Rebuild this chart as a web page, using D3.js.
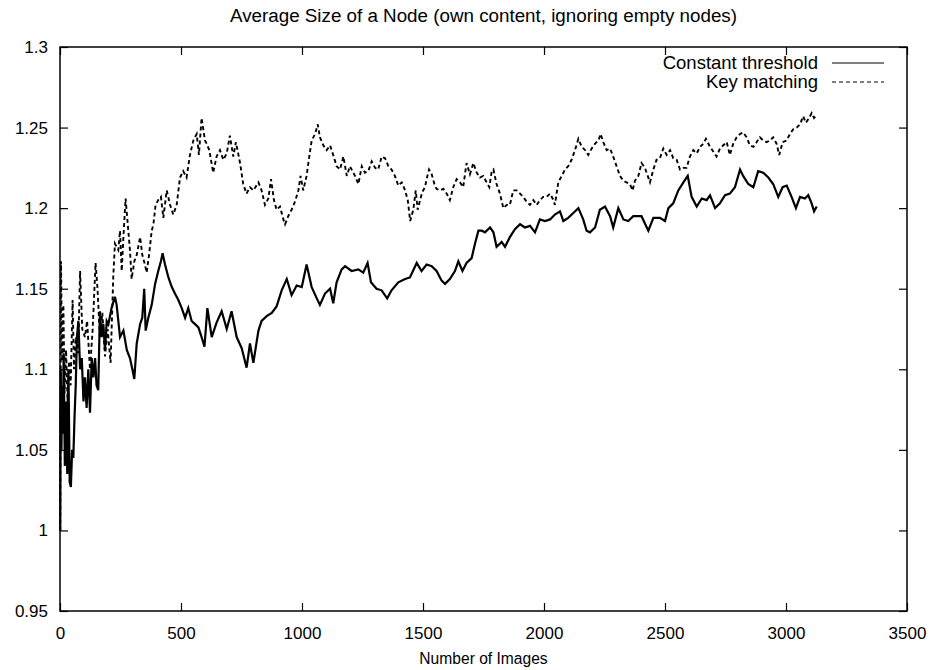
<!doctype html>
<html>
<head>
<meta charset="utf-8">
<style>
body{ margin:0; background:#ffffff; }
text{ font-family: "Liberation Sans", Arial, Helvetica, sans-serif; fill:#000; }
.tick-label{ font-size:17px; }
.title{ font-size:18.8px; }
.xtitle{ font-size:15.6px; }
.legend-label{ font-size:18.5px; }
</style>
<script src="https://d3js.org/d3.v7.min.js"></script>
</head>
<body>
<svg width="933" height="670"></svg>
<script>
var title = "Average Size of a Node (own content, ignoring empty nodes)";
var xTitle = "Number of Images";
var seriesNames = ["Constant threshold", "Key matching"];
var xTicks = [0, 500, 1000, 1500, 2000, 2500, 3000, 3500];
var yTicks = [0.95, 1, 1.05, 1.1, 1.15, 1.2, 1.25, 1.3];

// [images, avg size]
var constantThreshold = [
 [1,1.0],[3,1.10],[6,1.05],[9,1.09],[12,1.06],[15,1.11],[20,1.04],[25,1.08],[30,1.035],[35,1.1],
 [40,1.03],[45,1.027],[50,1.05],[55,1.045],[60,1.07],[65,1.09],[70,1.12],[76,1.13],[83,1.1],[90,1.107],
 [97,1.08],[103,1.095],[110,1.076],[117,1.1],[124,1.073],[131,1.107],[138,1.095],[145,1.107],[151,1.09],[158,1.087],
 [165,1.136],[172,1.12],[179,1.128],[186,1.112],[193,1.13],[200,1.128],[213,1.138],[227,1.145],[234,1.14],[248,1.12],
 [262,1.124],[276,1.112],[289,1.107],[299,1.1],[307,1.094],[317,1.116],[331,1.128],[340,1.132],[348,1.15],[354,1.124],
 [365,1.132],[379,1.14],[393,1.153],[406,1.161],[417,1.167],[424,1.172],[434,1.165],[448,1.157],[462,1.151],[475,1.147],
 [489,1.143],[503,1.138],[517,1.132],[530,1.138],[544,1.13],[558,1.128],[572,1.126],[585,1.12],[597,1.114],[609,1.138],
 [627,1.12],[647,1.129],[668,1.136],[689,1.125],[709,1.136],[730,1.12],[751,1.113],[771,1.101],[785,1.116],[799,1.104],
 [820,1.124],[833,1.13],[854,1.133],[875,1.135],[895,1.139],[916,1.149],[937,1.156],[957,1.146],[978,1.152],[999,1.151],
 [1019,1.165],[1040,1.151],[1061,1.144],[1074,1.14],[1095,1.147],[1116,1.15],[1129,1.141],[1143,1.154],[1164,1.162],[1178,1.164],
 [1205,1.161],[1233,1.162],[1253,1.16],[1271,1.166],[1285,1.154],[1308,1.15],[1329,1.149],[1352,1.144],[1370,1.149],[1398,1.154],
 [1426,1.156],[1446,1.157],[1474,1.166],[1494,1.161],[1515,1.165],[1536,1.164],[1556,1.161],[1577,1.155],[1591,1.153],[1611,1.156],
 [1632,1.161],[1646,1.167],[1663,1.161],[1680,1.166],[1701,1.169],[1715,1.178],[1729,1.186],[1743,1.186],[1756,1.185],[1777,1.188],
 [1791,1.185],[1804,1.176],[1825,1.179],[1839,1.176],[1859,1.182],[1880,1.187],[1901,1.19],[1921,1.188],[1942,1.189],[1963,1.185],
 [1983,1.193],[2004,1.192],[2025,1.193],[2045,1.196],[2066,1.198],[2080,1.192],[2100,1.194],[2121,1.197],[2142,1.2],[2162,1.193],
 [2176,1.186],[2190,1.185],[2211,1.188],[2231,1.199],[2252,1.201],[2273,1.195],[2286,1.188],[2307,1.2],[2328,1.193],[2348,1.192],
 [2369,1.195],[2403,1.195],[2431,1.186],[2452,1.194],[2479,1.194],[2500,1.192],[2514,1.2],[2534,1.203],[2555,1.211],[2576,1.216],
 [2594,1.22],[2610,1.207],[2631,1.201],[2652,1.206],[2672,1.205],[2686,1.208],[2707,1.2],[2727,1.203],[2748,1.208],[2768,1.209],
 [2789,1.213],[2810,1.224],[2823,1.22],[2844,1.215],[2865,1.213],[2885,1.223],[2906,1.222],[2927,1.219],[2947,1.215],[2968,1.207],
 [2986,1.213],[3003,1.214],[3023,1.207],[3041,1.2],[3058,1.207],[3078,1.206],[3092,1.208],[3106,1.203],[3116,1.198],[3127,1.201]
];

var keyMatching = [
 [1,1.0],[4,1.167],[9,1.105],[14,1.14],[19,1.085],[25,1.112],[31,1.08],[37,1.105],[44,1.09],[52,1.143],
 [58,1.1],[66,1.12],[75,1.11],[83,1.161],[92,1.125],[103,1.12],[112,1.13],[124,1.1],[135,1.125],[147,1.166],
 [155,1.15],[165,1.12],[175,1.135],[186,1.108],[197,1.125],[209,1.104],[220,1.157],[227,1.178],[241,1.174],[248,1.186],
 [255,1.161],[262,1.182],[271,1.206],[280,1.19],[289,1.174],[296,1.156],[307,1.167],[317,1.171],[331,1.182],[340,1.171],
 [351,1.165],[358,1.16],[368,1.171],[379,1.186],[386,1.19],[395,1.202],[406,1.205],[417,1.207],[427,1.194],[441,1.211],
 [455,1.202],[468,1.196],[482,1.202],[496,1.219],[509,1.223],[523,1.219],[537,1.233],[551,1.242],[565,1.246],[574,1.233],
 [585,1.256],[599,1.242],[606,1.24],[617,1.236],[633,1.222],[647,1.232],[661,1.236],[675,1.23],[689,1.234],[702,1.245],
 [716,1.232],[727,1.241],[744,1.228],[757,1.215],[771,1.209],[785,1.213],[799,1.211],[820,1.216],[833,1.211],[847,1.202],
 [861,1.206],[872,1.218],[884,1.205],[895,1.199],[909,1.201],[923,1.193],[930,1.19],[943,1.195],[957,1.199],[971,1.204],
 [985,1.211],[994,1.22],[1005,1.211],[1019,1.22],[1030,1.232],[1040,1.242],[1054,1.246],[1065,1.252],[1074,1.244],[1088,1.239],
 [1102,1.236],[1116,1.239],[1129,1.233],[1143,1.226],[1157,1.224],[1171,1.232],[1185,1.22],[1198,1.226],[1219,1.22],[1233,1.215],
 [1247,1.226],[1260,1.222],[1274,1.223],[1288,1.229],[1302,1.225],[1315,1.224],[1329,1.232],[1343,1.231],[1357,1.226],[1370,1.224],
 [1384,1.22],[1398,1.214],[1412,1.216],[1426,1.211],[1437,1.205],[1447,1.192],[1460,1.199],[1470,1.211],[1478,1.199],[1488,1.205],
 [1497,1.21],[1508,1.213],[1515,1.218],[1525,1.224],[1536,1.221],[1547,1.215],[1556,1.212],[1570,1.211],[1584,1.212],[1598,1.209],
 [1611,1.205],[1625,1.213],[1639,1.218],[1653,1.216],[1666,1.213],[1680,1.228],[1694,1.221],[1708,1.228],[1722,1.222],[1735,1.219],
 [1749,1.22],[1763,1.216],[1774,1.213],[1784,1.223],[1791,1.224],[1804,1.215],[1818,1.209],[1832,1.2],[1846,1.202],[1859,1.202],
 [1873,1.211],[1887,1.211],[1901,1.209],[1914,1.207],[1928,1.204],[1942,1.202],[1956,1.205],[1970,1.202],[1983,1.205],[1997,1.207],
 [2011,1.207],[2025,1.209],[2039,1.205],[2045,1.202],[2059,1.216],[2073,1.22],[2087,1.224],[2100,1.226],[2114,1.23],[2128,1.236],
 [2142,1.243],[2156,1.238],[2170,1.236],[2183,1.233],[2197,1.237],[2211,1.24],[2225,1.242],[2234,1.246],[2245,1.241],[2259,1.236],
 [2273,1.237],[2286,1.232],[2300,1.226],[2314,1.22],[2328,1.217],[2341,1.216],[2355,1.215],[2366,1.211],[2376,1.217],[2390,1.22],
 [2403,1.228],[2417,1.225],[2438,1.216],[2452,1.224],[2465,1.23],[2479,1.231],[2493,1.237],[2507,1.233],[2521,1.236],[2534,1.231],
 [2548,1.23],[2562,1.224],[2576,1.225],[2589,1.225],[2603,1.232],[2617,1.236],[2631,1.234],[2645,1.238],[2658,1.24],[2669,1.243],
 [2686,1.238],[2700,1.235],[2713,1.232],[2727,1.237],[2741,1.239],[2755,1.241],[2768,1.233],[2782,1.24],[2796,1.244],[2810,1.246],
 [2823,1.247],[2837,1.244],[2851,1.239],[2865,1.238],[2879,1.241],[2892,1.244],[2906,1.242],[2920,1.241],[2934,1.242],[2947,1.244],
 [2961,1.24],[2972,1.233],[2986,1.241],[3003,1.242],[3016,1.246],[3030,1.249],[3044,1.25],[3058,1.252],[3071,1.257],[3082,1.253],
 [3096,1.256],[3106,1.259],[3116,1.256],[3127,1.258]
];

var svg = d3.select("svg");
var margin = {left:60, right:26, top:47, bottom:59};
var W = 933, H = 670;

var x = d3.scaleLinear().domain([0, 3500]).range([margin.left, W - margin.right]);
var y = d3.scaleLinear().domain([0.95, 1.3]).range([H - margin.bottom, margin.top]);

// title
svg.append("text").attr("class","title")
  .attr("x", (margin.left + W - margin.right)/2).attr("y", 22)
  .attr("text-anchor","middle").text(title);

// axes with inward ticks, mirrored
var tickLen = 8;
svg.append("g").attr("transform","translate(0," + y.range()[0] + ")")
  .call(d3.axisBottom(x).tickValues(xTicks).tickSize(-tickLen).tickPadding(tickLen + 8).tickFormat(d3.format("d")))
  .call(function(g){ g.select(".domain").remove(); g.selectAll("text").attr("class","tick-label").attr("font-size",null).attr("font-family",null); });
svg.append("g").attr("transform","translate(0," + y.range()[1] + ")")
  .call(d3.axisTop(x).tickValues(xTicks).tickSize(-tickLen).tickFormat(""))
  .call(function(g){ g.select(".domain").remove(); });
svg.append("g").attr("transform","translate(" + x.range()[0] + ",0)")
  .call(d3.axisLeft(y).tickValues(yTicks).tickSize(-tickLen).tickPadding(tickLen + 4).tickFormat(function(d){ return d3.format("")(+d.toFixed(2)); }))
  .call(function(g){ g.select(".domain").remove(); g.selectAll("text").attr("class","tick-label").attr("font-size",null).attr("font-family",null); });
svg.append("g").attr("transform","translate(" + x.range()[1] + ",0)")
  .call(d3.axisRight(y).tickValues(yTicks).tickSize(-tickLen).tickFormat(""))
  .call(function(g){ g.select(".domain").remove(); });
svg.selectAll(".tick line").attr("stroke","#000").attr("stroke-width",1.2);

svg.append("rect")
  .attr("x", x.range()[0]).attr("y", y.range()[1])
  .attr("width", x.range()[1] - x.range()[0]).attr("height", y.range()[0] - y.range()[1])
  .attr("fill","none").attr("stroke","#000").attr("stroke-width",1.5);

svg.append("text").attr("class","xtitle")
  .attr("x", (margin.left + W - margin.right)/2).attr("y", 664)
  .attr("text-anchor","middle").text(xTitle);

var line = d3.line().x(function(d){ return x(d[0]); }).y(function(d){ return y(d[1]); });

svg.append("path").datum(keyMatching)
  .attr("fill","none").attr("stroke","#000").attr("stroke-width",1.9)
  .attr("stroke-dasharray","4,3").attr("d", line);
svg.append("path").datum(constantThreshold)
  .attr("fill","none").attr("stroke","#000").attr("stroke-width",2.2)
  .attr("d", line);

// legend
var legend = svg.append("g");
var dashes = [null, "4,3"];
seriesNames.forEach(function(name, i){
  var ly = 63 + i*19;
  legend.append("text").attr("class","legend-label")
    .attr("x", 818).attr("y", ly + 6).attr("text-anchor","end").text(name);
  legend.append("line").attr("x1", 832).attr("x2", 884).attr("y1", ly).attr("y2", ly)
    .attr("stroke","#000").attr("stroke-width",1).attr("stroke-dasharray", dashes[i]);
});
</script>
</body>
</html>
